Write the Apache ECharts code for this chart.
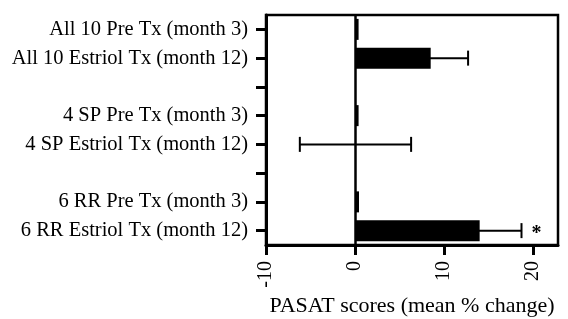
<!DOCTYPE html>
<html>
<head>
<meta charset="utf-8">
<script src="https://cdn.jsdelivr.net/npm/echarts@6/dist/echarts.min.js"></script>
<style>html,body{margin:0;padding:0;background:#fff}#c{width:568px;height:319px}</style>
</head>
<body>
<div id="c"></div>
<script>
var categories = ['All 10 Pre Tx (month 3)', 'All 10 Estriol Tx (month 12)', '',
  '4 SP Pre Tx (month 3)', '4 SP Estriol Tx (month 12)', '',
  '6 RR Pre Tx (month 3)', '6 RR Estriol Tx (month 12)'];
var meanChange = [0.4, 8.5, null, 0.4, 0.05, null, 0.45, 14.0];
var errorSize = [null, 4.2, null, null, 6.25, null, null, 4.7];
var significance = ['', '', '', '', '', '', '', '*'];
var xTicks = [-10, 0, 10, 20];
var xMin = -10, xMax = 22.8;

var FONT = '"Liberation Serif", "Times New Roman", serif';
var barData = meanChange.map(function (v) { return v === null ? '-' : v; });
var errData = [];
meanChange.forEach(function (v, i) {
  if (v !== null && errorSize[i] !== null) {
    errData.push([i, v - errorSize[i], v + errorSize[i], significance[i]]);
  }
});

var chart = echarts.init(document.getElementById('c'), null, {renderer: 'canvas'});
chart.setOption({
  animation: false,
  backgroundColor: '#fff',
  grid: {left: 266, right: 10, top: 15, bottom: 74, containLabel: false, outerBoundsMode: 'none',
    show: true, borderColor: '#000', borderWidth: 2.5, backgroundColor: 'transparent'},
  xAxis: {
    type: 'value', min: xMin, max: xMax, interval: 10,
    splitLine: {show: false},
    axisLine: {show: true, lineStyle: {color: '#000', width: 3}},
    axisTick: {show: true, length: 10, lineStyle: {color: '#000', width: 3}, customValues: xTicks},
    axisLabel: {rotate: 90, margin: 16, color: '#000', fontFamily: FONT, fontSize: 20, customValues: xTicks},
    name: 'PASAT scores (mean % change)', nameLocation: 'middle', nameGap: 46,
    nameTextStyle: {color: '#000', fontFamily: FONT, fontSize: 22}
  },
  yAxis: {
    type: 'category', data: categories, inverse: true,
    axisLine: {show: true, onZero: false, lineStyle: {color: '#000', width: 3}},
    axisTick: {show: true, alignWithLabel: true, length: 10, lineStyle: {color: '#000', width: 3}},
    axisLabel: {margin: 18, color: '#000', fontFamily: FONT, fontSize: 20.5, interval: 0},
    splitLine: {show: false}
  },
  series: [
    {
      type: 'bar', data: barData, barWidth: 21,
      itemStyle: {color: '#000'},
      markLine: {
        silent: true, symbol: 'none', label: {show: false},
        lineStyle: {color: '#000', width: 2.5, type: 'solid'},
        data: [{xAxis: 0}]
      }
    },
    {
      type: 'custom', data: errData,
      encode: {x: [1, 2], y: 0},
      renderItem: function (params, api) {
        var cat = api.value(0);
        var lo = api.coord([api.value(1), cat]);
        var hi = api.coord([api.value(2), cat]);
        var h = 7.5;
        var style = {stroke: '#000', lineWidth: 2, fill: null};
        var children = [
          {type: 'line', shape: {x1: lo[0], y1: lo[1], x2: hi[0], y2: hi[1]}, style: style},
          {type: 'line', shape: {x1: hi[0], y1: hi[1] - h, x2: hi[0], y2: hi[1] + h}, style: style},
          {type: 'line', shape: {x1: lo[0], y1: lo[1] - h, x2: lo[0], y2: lo[1] + h}, style: style}
        ];
        var sig = errData[params.dataIndex][3];
        if (sig) {
          children.push({type: 'text', style: {text: sig, x: hi[0] + 10, y: hi[1] + 3, fill: '#000',
            font: 'bold 20px ' + FONT, textAlign: 'left', textVerticalAlign: 'middle'}});
        }
        return {type: 'group', children: children};
      }
    }
  ]
});
</script>
</body>
</html>
